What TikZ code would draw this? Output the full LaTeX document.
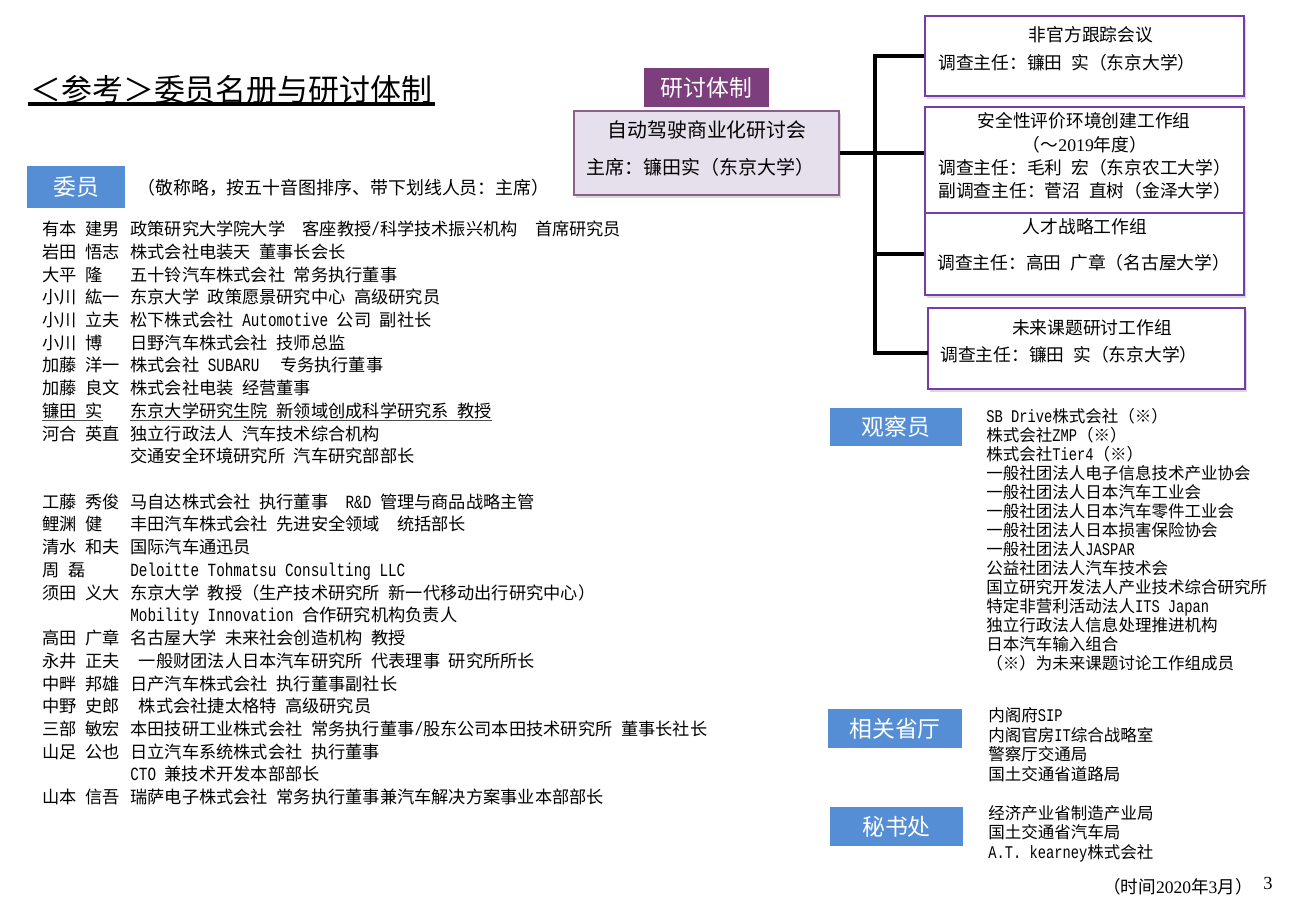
\documentclass[tikz,border=0pt]{standalone}
\usepackage{fontspec}
\setmainfont{Noto Sans CJK SC}
\newfontfamily\enfont[Scale=1.08,FakeStretch=0.77]{Liberation Mono}
\newfontfamily\numfont{Liberation Serif}
\newcommand{\en}[1]{{\enfont #1}}
\newcommand{\num}[1]{{\numfont #1}}
\newcommand{\gap}{\hspace{0.5em}}
\usetikzlibrary{shadows}
\definecolor{tagblue}{RGB}{85,142,213}
\definecolor{hdrpurple}{RGB}{125,62,125}
\definecolor{semfill}{RGB}{230,223,236}
\definecolor{semline}{RGB}{140,95,140}
\definecolor{wgline}{RGB}{118,60,168}

\begin{document}
\begin{tikzpicture}[x=0.2mm,y=-0.2mm,
    tag/.style={fill=tagblue,text=white,inner sep=0,font=\fontsize{13}{13}\selectfont},
    member/.style={anchor=base west,inner sep=0,font=\fontsize{9.8}{10}\selectfont},
    listtext/.style={anchor=base west,inner sep=0,font=\fontsize{9.4}{10}\selectfont},
    wgbox/.style={draw=wgline,line width=0.8pt,fill=white,inner sep=0,
      drop shadow={shadow xshift=0.4mm,shadow yshift=-0.5mm,opacity=0.25,fill=black!60}},
    wgtext/.style={inner sep=0,font=\fontsize{10.1}{11}\selectfont},
    link/.style={line width=2.8pt,line join=miter}]
    \useasboundingbox (0,0) rectangle (1300,900);

    % Title
    \node[anchor=base west,inner sep=0,font=\fontsize{17.6}{18}\selectfont] (ttl) at (30,101) {＜参考＞委员名册与研讨体制};
    \draw[line width=1.9pt] ([xshift=-0.4mm,yshift=-0.6mm]ttl.base west) -- ([xshift=0.4mm,yshift=-0.6mm]ttl.base east);

    % Members
    \node[tag,minimum width=19.6mm,minimum height=8.4mm] (members) at (76,187) {委员};
    \node[anchor=base west,inner sep=0,font=\fontsize{10.2}{11}\selectfont] (note) at (137,194) {（敬称略，按五十音图排序、带下划线人员：主席）};
    \foreach \r/\nm in {0/有本\gap 建男,1/岩田\gap 悟志,2/大平\gap 隆,3/小川\gap 紘一,4/小川\gap 立夫,
        5/小川\gap 博,6/加藤\gap 洋一,7/加藤\gap 良文,8/镰田\gap 实,9/河合\gap 英直,
        12/工藤\gap 秀俊,13/鲤渊\gap 健,14/清水\gap 和夫,15/周\gap 磊,16/须田\gap 义大,
        18/高田\gap 广章,19/永井\gap 正夫,20/中畔\gap 邦雄,21/中野\gap 史郎,22/三部\gap 敏宏,
        23/山足\gap 公也,25/山本\gap 信吾}
      \node[member] (nm\r) at (42,235.6+22.72*\r) {\nm};
    \foreach \r/\org in {0/{政策研究大学院大学　客座教授\en{/}科学技术振兴机构　首席研究员},
        1/{株式会社电装天\gap 董事长会长},
        2/{五十铃汽车株式会社\gap 常务执行董事},
        3/{东京大学\gap 政策愿景研究中心\gap 高级研究员},
        4/{松下株式会社\en{ Automotive }公司\gap 副社长},
        5/{日野汽车株式会社\gap 技师总监},
        6/{株式会社\en{ SUBARU}\hspace{1.2em}专务执行董事},
        7/{株式会社电装\gap 经营董事},
        8/{东京大学研究生院\gap 新领域创成科学研究系\gap 教授},
        9/{独立行政法人\gap 汽车技术综合机构},
        10/{交通安全环境研究所\gap 汽车研究部部长},
        12/{马自达株式会社\gap 执行董事　\en{R\&D }管理与商品战略主管},
        13/{丰田汽车株式会社\gap 先进安全领域　统括部长},
        14/{国际汽车通迅员},
        15/{\en{Deloitte Tohmatsu Consulting LLC}},
        16/{东京大学\gap 教授（生产技术研究所\gap 新一代移动出行研究中心）},
        17/{\en{Mobility Innovation }合作研究机构负责人},
        18/{名古屋大学\gap 未来社会创造机构\gap 教授},
        19/{\gap 一般财团法人日本汽车研究所\gap 代表理事\gap 研究所所长},
        20/{日产汽车株式会社\gap 执行董事副社长},
        21/{\gap 株式会社捷太格特\gap 高级研究员},
        22/{本田技研工业株式会社\gap 常务执行董事\en{/}股东公司本田技术研究所\gap 董事长社长},
        23/{日立汽车系统株式会社\gap 执行董事},
        24/{\en{CTO }兼技术开发本部部长},
        25/{瑞萨电子株式会社\gap 常务执行董事兼汽车解决方案事业本部部长}}
      \node[member] (org\r) at (130,235.6+22.72*\r) {\org};
    % Chair underlined
    \draw[line width=0.6pt,black!70] ([yshift=-0.7mm]nm8.base west) -- ([yshift=-0.7mm]nm8.base east);
    \draw[line width=0.6pt,black!70] ([yshift=-0.7mm]org8.base west) -- ([yshift=-0.7mm]org8.base east);

    % Meeting structure
    \node[fill=hdrpurple,text=white,inner sep=0,minimum width=25mm,minimum height=7.8mm,
      font=\fontsize{13}{13}\selectfont] (structure) at (706.5,87.5) {研讨体制};
    \node[draw=semline,line width=0.9pt,fill=semfill,inner sep=0,minimum width=53mm,minimum height=16.8mm,
      drop shadow={shadow xshift=0.4mm,shadow yshift=-0.5mm,opacity=0.25,fill=black!60}] (sem) at (706.5,153) {};
    \node[inner sep=0,anchor=base,font=\fontsize{11.3}{12}\selectfont] (semname) at (707,137.6) {自动驾驶商业化研讨会};
    \node[inner sep=0,anchor=base west,font=\fontsize{10.8}{11}\selectfont] (semchair) at (586,174) {主席：镰田实（东京大学）};

    % Working groups
    \node[wgbox,minimum width=63.8mm,minimum height=16mm] (wg1) at (1084.5,56) {};
    \node[wgbox,minimum width=63.8mm,minimum height=21.2mm] (wg2) at (1084.5,160) {};
    \node[wgbox,minimum width=63.8mm,minimum height=16.4mm] (wg3) at (1084.5,254) {};
    \node[wgbox,minimum width=63.4mm,minimum height=16.2mm] (wg4) at (1086.5,348.5) {};

    \node[wgtext,anchor=base] (wg1t) at (1091,41.8) {非官方跟踪会议};
    \node[wgtext,anchor=base west] (wg1a) at (938,69.8) {调查主任：镰田\gap 实（东京大学）};
    \node[wgtext,anchor=base] (wg2t) at (1084,127.8) {安全性评价环境创建工作组};
    \node[wgtext,anchor=base] (wg2y) at (1085,151.8) {（～\num{2019}年度）};
    \node[wgtext,anchor=base west] (wg2a) at (938,174.8) {调查主任：毛利\gap 宏（东京农工大学）};
    \node[wgtext,anchor=base west] (wg2b) at (938,197.8) {副调查主任：菅沼\gap 直树（金泽大学）};
    \node[wgtext,anchor=base] (wg3t) at (1085,233.8) {人才战略工作组};
    \node[wgtext,anchor=base west] (wg3a) at (937,269.8) {调查主任：高田\gap 广章（名古屋大学）};
    \node[wgtext,anchor=base] (wg4t) at (1092,334.8) {未来课题研讨工作组};
    \node[wgtext,anchor=base west] (wg4a) at (940,361.8) {调查主任：镰田\gap 实（东京大学）};

    % Connectors
    \coordinate (bus) at (875,0);
    \coordinate (wg4in) at (928,353);
    \draw[link] (wg1.west) -| (bus |- wg4in) -- (wg4in);
    \draw[link] (sem.east) -- (sem.east -| wg2.west);
    \draw[link] (wg3.west) -- (wg3.west -| bus);

    % Observers
    \node[tag,minimum width=26.4mm,minimum height=7.6mm] (observers) at (896,427) {观察员};
    \foreach \t [count=\i from 0] in {\en{SB Drive}株式会社（※）,株式会社\en{ZMP}（※）,株式会社\en{Tier4}（※）,
        一般社团法人电子信息技术产业协会,一般社团法人日本汽车工业会,一般社团法人日本汽车零件工业会,
        一般社团法人日本损害保险协会,一般社团法人\en{JASPAR},公益社团法人汽车技术会,
        国立研究开发法人产业技术综合研究所,特定非营利活动法人\en{ITS Japan},
        独立行政法人信息处理推进机构,日本汽车输入组合,（※）为未来课题讨论工作组成员}
      \node[listtext] (obs\i) at (986,422+19.05*\i) {\t};

    % Ministries
    \node[tag,minimum width=26.8mm,minimum height=7.8mm] (ministries) at (895,728.5) {相关省厅};
    \foreach \t [count=\i from 0] in {内阁府\en{SIP},内阁官房\en{IT}综合战略室,警察厅交通局,国土交通省道路局}
      \node[listtext] (min\i) at (988,721.3+19.7*\i) {\t};

    % Secretariat
    \node[tag,minimum width=26.6mm,minimum height=7.8mm] (secretariat) at (896.5,826.5) {秘书处};
    \foreach \t [count=\i from 0] in {经济产业省制造产业局,国土交通省汽车局,\en{A.T. kearney}株式会社}
      \node[listtext] (sec\i) at (988,819.3+19.5*\i) {\t};

    % Date and page
    \node[anchor=base east,inner sep=0,font=\fontsize{10}{11}\selectfont] (date) at (1253,893.5) {（时间\num{2020}年\num{3}月）};
    \node[anchor=base west,inner sep=0,font=\fontsize{10.5}{11}\numfont] (page) at (1263,889) {3};
  \end{tikzpicture}
\end{document}
